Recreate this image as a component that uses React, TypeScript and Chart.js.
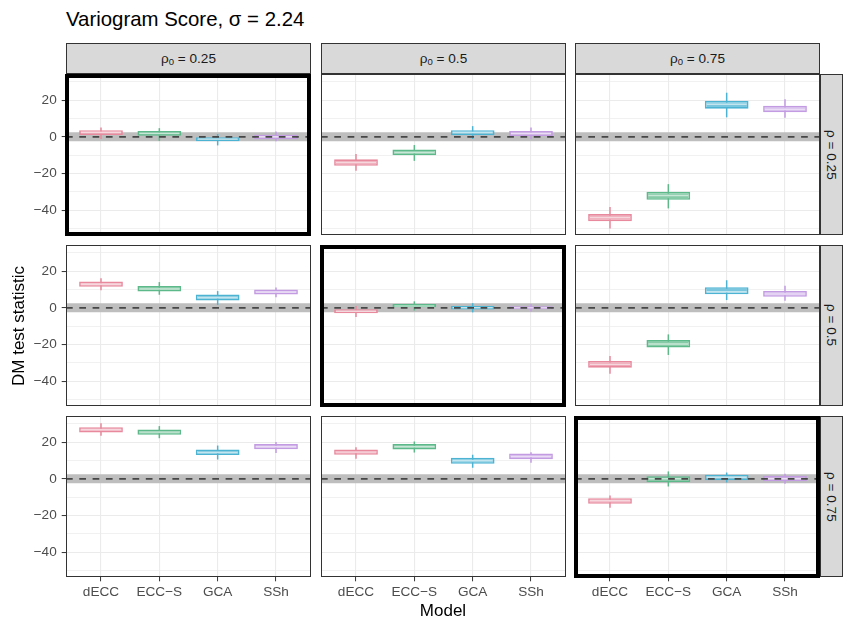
import React, { useEffect, useRef } from 'react';
import { Chart, registerables } from 'chart.js';

Chart.register(...registerables);

// ---------- data ----------
const models = ['dECC', 'ECC\u2212S', 'GCA', 'SSh'];
const rho0Labels = ['0.25', '0.5', '0.75'];
const rhoLabels = ['0.25', '0.5', '0.75'];
const yMajorTicks = [-40, -20, 0, 20];
const yMinorTicks = [-50, -30, -10, 10, 30];
const Y_MIN = -53.5;
const Y_MAX = 34.2;
const BAND = 2.5; // half-height of the grey reference band around 0

// each row: [lower whisker, Q1, median, Q3, upper whisker] for dECC, ECC-S, GCA, SSh
// rho = 0.25
const rho025_rho0025 = [[-1.2, 1.0, 2.3, 3.6, 5.1], [-2.2, 0.6, 1.8, 3.1, 4.7], [-4.7, -2.4, -1.2, 0.0, 1.5], [-2.5, -1.4, 0.0, 1.1, 2.9]];
const rho025_rho005 = [[-18.5, -15.8, -14.0, -12.3, -9.4], [-13.1, -10.1, -8.5, -6.9, -4.5], [-1.2, 0.9, 2.3, 3.6, 5.8], [-1.4, 0.4, 1.8, 3.1, 5.1]];
const rho025_rho0075 = [[-49.9, -46.0, -44.0, -42.1, -38.2], [-39.0, -34.3, -32.0, -30.0, -25.8], [10.6, 15.3, 17.7, 19.6, 24.0], [10.4, 13.3, 15.0, 16.9, 20.4]];
// rho = 0.5
const rho05_rho0025 = [[9.6, 11.4, 12.8, 14.3, 16.1], [7.1, 8.9, 10.3, 11.8, 14.0], [1.6, 4.0, 5.6, 7.3, 9.1], [5.8, 7.3, 8.6, 10.0, 11.1]];
const rho05_rho005 = [[-5.0, -3.0, -1.9, -0.8, 1.0], [-1.5, 0.0, 1.0, 2.0, 3.5], [-2.5, -1.0, 0.0, 1.0, 2.5], [-2.0, -0.8, 0.0, 0.8, 2.0]];
const rho05_rho0075 = [[-36.0, -32.6, -30.8, -29.0, -26.3], [-25.7, -21.7, -19.7, -17.6, -14.5], [4.2, 7.4, 8.7, 11.2, 15.0], [3.8, 6.0, 7.5, 9.2, 12.0]];
// rho = 0.75
const rho075_rho0025 = [[23.4, 25.2, 26.7, 28.1, 30.3], [22.1, 24.0, 25.4, 26.9, 28.7], [10.5, 12.9, 14.4, 16.0, 18.1], [14.0, 16.1, 17.5, 18.9, 20.0]];
const rho075_rho005 = [[10.9, 13.1, 14.5, 16.0, 17.2], [14.3, 16.0, 17.5, 18.9, 20.3], [6.0, 8.2, 9.8, 11.4, 13.1], [8.7, 10.7, 12.2, 13.8, 14.5]];
const rho075_rho0075 = [[-15.8, -13.6, -12.0, -10.6, -9.1], [-4.2, -1.9, 0.0, 1.4, 4.0], [-2.0, -0.8, 0.8, 2.2, 3.4], [-2.7, -1.3, 0.0, 1.6, 2.7]];

const panelData = [
  [rho025_rho0025, rho025_rho005, rho025_rho0075],
  [rho05_rho0025, rho05_rho005, rho05_rho0075],
  [rho075_rho0025, rho075_rho005, rho075_rho0075],
];

// ---------- style ----------
const COLORS = ['#E8899D', '#5DB98A', '#4DB3D3', '#C29BE2'];
const FILLS = ['#EEA7B6', '#86CAA7', '#7AC6DE', '#D1B4E9'];
const FONT = "'Liberation Sans', Arial, Helvetica, sans-serif";
const PANEL_LEFT = [66, 321, 575];
const PANEL_TOP = [74, 245, 416];
const PW = 245;
const PH = 161;
const AXW = 50;
const AXH = 30;
const X_MIN = -0.6;
const X_MAX = 3.6;

const fmt = (v: number) => (v < 0 ? '\u2212' + Math.abs(v) : String(v));
const isMajor = (v: number) => yMajorTicks.includes(v);
const yGrid = [...yMajorTicks, ...yMinorTicks].sort((a, b) => a - b);

function Panel({ row, col }: { row: number; col: number }) {
  const ref = useRef<HTMLCanvasElement>(null);
  const showY = col === 0;
  const showX = row === 2;
  const w = PW + (showY ? AXW : 0);
  const h = PH + (showX ? AXH : 0);

  useEffect(() => {
    const stats = panelData[row][col];
    const chart = new Chart(ref.current as HTMLCanvasElement, {
      type: 'bar',
      data: {
        datasets: [
          {
            type: 'line',
            label: 'zero',
            data: [{ x: X_MIN, y: 0 }, { x: X_MAX, y: 0 }],
            borderColor: '#474747',
            borderWidth: 1.7,
            borderDash: [6.7, 6.6],
            pointRadius: 0,
            fill: false,
            order: 0,
          },
          {
            type: 'scatter',
            label: 'median',
            data: stats.map((s, i) => ({ x: i, y: s[2] })),
            pointStyle: 'line',
            pointRadius: 20,
            pointBorderColor: 'rgba(255,255,255,0.55)',
            pointBorderWidth: 1.4,
            order: 1,
          },
          {
            type: 'bar',
            label: 'box',
            data: stats.map((s, i) => ({ x: i, y: [s[1], s[3]] })),
            backgroundColor: FILLS,
            borderColor: COLORS,
            borderWidth: 1.6,
            borderSkipped: false,
            grouped: false,
            categoryPercentage: 1,
            barPercentage: 0.75,
            order: 2,
          },
          {
            type: 'bar',
            label: 'whisker',
            data: stats.map((s, i) => ({ x: i, y: [s[0], s[4]] })),
            backgroundColor: COLORS,
            borderWidth: 0,
            grouped: false,
            categoryPercentage: 1,
            barPercentage: 0.75,
            maxBarThickness: 1.5,
            order: 3,
          },
          {
            type: 'line',
            label: 'bandTop',
            data: [{ x: X_MIN, y: BAND }, { x: X_MAX, y: BAND }],
            borderWidth: 0,
            borderColor: 'rgba(0,0,0,0)',
            pointRadius: 0,
            fill: '+1',
            backgroundColor: '#BEBEBE',
            order: 4,
          },
          {
            type: 'line',
            label: 'bandBottom',
            data: [{ x: X_MIN, y: -BAND }, { x: X_MAX, y: -BAND }],
            borderWidth: 0,
            borderColor: 'rgba(0,0,0,0)',
            pointRadius: 0,
            fill: false,
            order: 5,
          },
        ],
      } as any,
      options: {
        responsive: false,
        maintainAspectRatio: false,
        animation: false,
        devicePixelRatio: 1,
        events: [],
        layout: { padding: 0, autoPadding: false },
        plugins: { legend: { display: false }, tooltip: { enabled: false } },
        scales: {
          x: {
            type: 'linear',
            min: X_MIN,
            max: X_MAX,
            offset: false,
            afterBuildTicks: (s: any) => {
              s.ticks = models.map((_, i) => ({ value: i }));
            },
            afterFit: (s: any) => {
              s.height = showX ? AXH : 0;
              s.paddingLeft = 0;
              s.paddingRight = 0;
            },
            ticks: {
              display: showX,
              autoSkip: false,
              maxRotation: 0,
              padding: 3,
              color: '#4D4D4D',
              font: { family: FONT, size: 13.6 },
              callback: (_v: any, i: number) => models[i],
            },
            grid: {
              offset: false,
              color: '#EBEBEB',
              lineWidth: 1.1,
              drawTicks: showX,
              tickLength: 4.3,
              tickColor: '#333333',
              tickWidth: 1,
            },
            border: { display: false },
          },
          y: {
            type: 'linear',
            min: Y_MIN,
            max: Y_MAX,
            afterBuildTicks: (s: any) => {
              s.ticks = yGrid.map((v) => ({ value: v }));
            },
            afterFit: (s: any) => {
              s.width = showY ? AXW : 0;
              s.paddingTop = 0;
              s.paddingBottom = 0;
            },
            ticks: {
              display: showY,
              autoSkip: false,
              padding: 5,
              color: '#4D4D4D',
              font: { family: FONT, size: 13.6 },
              callback: (v: any) => (isMajor(v) ? fmt(v) : ''),
            },
            grid: {
              color: '#EBEBEB',
              lineWidth: (ctx: any) => (isMajor(ctx.tick?.value) ? 1.1 : 0.7),
              drawTicks: showY,
              tickLength: 4.3,
              tickColor: (ctx: any) => (isMajor(ctx.tick?.value) ? '#333333' : 'rgba(0,0,0,0)'),
              tickWidth: 1,
            },
            border: { display: false },
          },
        },
      } as any,
    });
    return () => chart.destroy();
  }, [row, col]);

  return (
    <canvas
      ref={ref}
      width={w}
      height={h}
      style={{ position: 'absolute', left: PANEL_LEFT[col] - (showY ? AXW : 0), top: PANEL_TOP[row], width: w, height: h }}
    />
  );
}

export default function App() {
  const panels: React.ReactNode[] = [];
  for (let r = 0; r < 3; r++) {
    for (let c = 0; c < 3; c++) {
      panels.push(<Panel key={`p${r}${c}`} row={r} col={c} />);
      const thick = r === c;
      panels.push(
        <div
          key={`b${r}${c}`}
          style={{
            position: 'absolute',
            boxSizing: 'border-box',
            left: thick ? PANEL_LEFT[c] - 1 : PANEL_LEFT[c],
            top: PANEL_TOP[r],
            width: thick ? PW + 1 : PW,
            height: thick ? PH + 1 : PH,
            border: thick ? '4px solid #000' : '1px solid #333333',
            pointerEvents: 'none',
          }}
        />
      );
    }
  }
  return (
    <div style={{ position: 'absolute', left: 0, top: 0, width: 845, height: 622, background: '#fff', overflow: 'hidden', fontFamily: FONT }}>
      <div style={{ position: 'absolute', left: 66, top: 7, fontSize: 20.4, lineHeight: '24px', color: '#000', whiteSpace: 'nowrap' }}>
        Variogram Score, σ = 2.24
      </div>
      {rho0Labels.map((lab, c) => (
        <div
          key={`ts${c}`}
          style={{
            position: 'absolute',
            boxSizing: 'border-box',
            left: PANEL_LEFT[c],
            top: 43,
            width: PW,
            height: 31,
            background: '#D9D9D9',
            border: '1px solid #333333',
            display: 'flex',
            alignItems: 'center',
            justifyContent: 'center',
            fontSize: 13.6,
            color: '#1A1A1A',
            whiteSpace: 'nowrap',
          }}
        >
          <span>
            ρ<span style={{ fontSize: '70%', position: 'relative', top: '0.25em' }}>0</span> = {lab}
          </span>
        </div>
      ))}
      {rhoLabels.map((lab, r) => (
        <div
          key={`rs${r}`}
          style={{
            position: 'absolute',
            boxSizing: 'border-box',
            left: 820,
            top: PANEL_TOP[r],
            width: 23,
            height: PH,
            background: '#D9D9D9',
            border: '1px solid #333333',
            display: 'flex',
            alignItems: 'center',
            justifyContent: 'center',
            fontSize: 13.6,
            color: '#1A1A1A',
            writingMode: 'vertical-rl',
            whiteSpace: 'nowrap',
          }}
        >
          ρ = {lab}
        </div>
      ))}
      {panels}
      <div
        style={{
          position: 'absolute',
          left: 19,
          top: 325.5,
          transform: 'translate(-50%, -50%) rotate(-90deg)',
          fontSize: 17,
          lineHeight: '20px',
          whiteSpace: 'nowrap',
          color: '#000',
        }}
      >
        DM test statistic
      </div>
      <div
        style={{
          position: 'absolute',
          left: 443,
          top: 601,
          transform: 'translateX(-50%)',
          fontSize: 17,
          lineHeight: '20px',
          whiteSpace: 'nowrap',
          color: '#000',
        }}
      >
        Model
      </div>
    </div>
  );
}
